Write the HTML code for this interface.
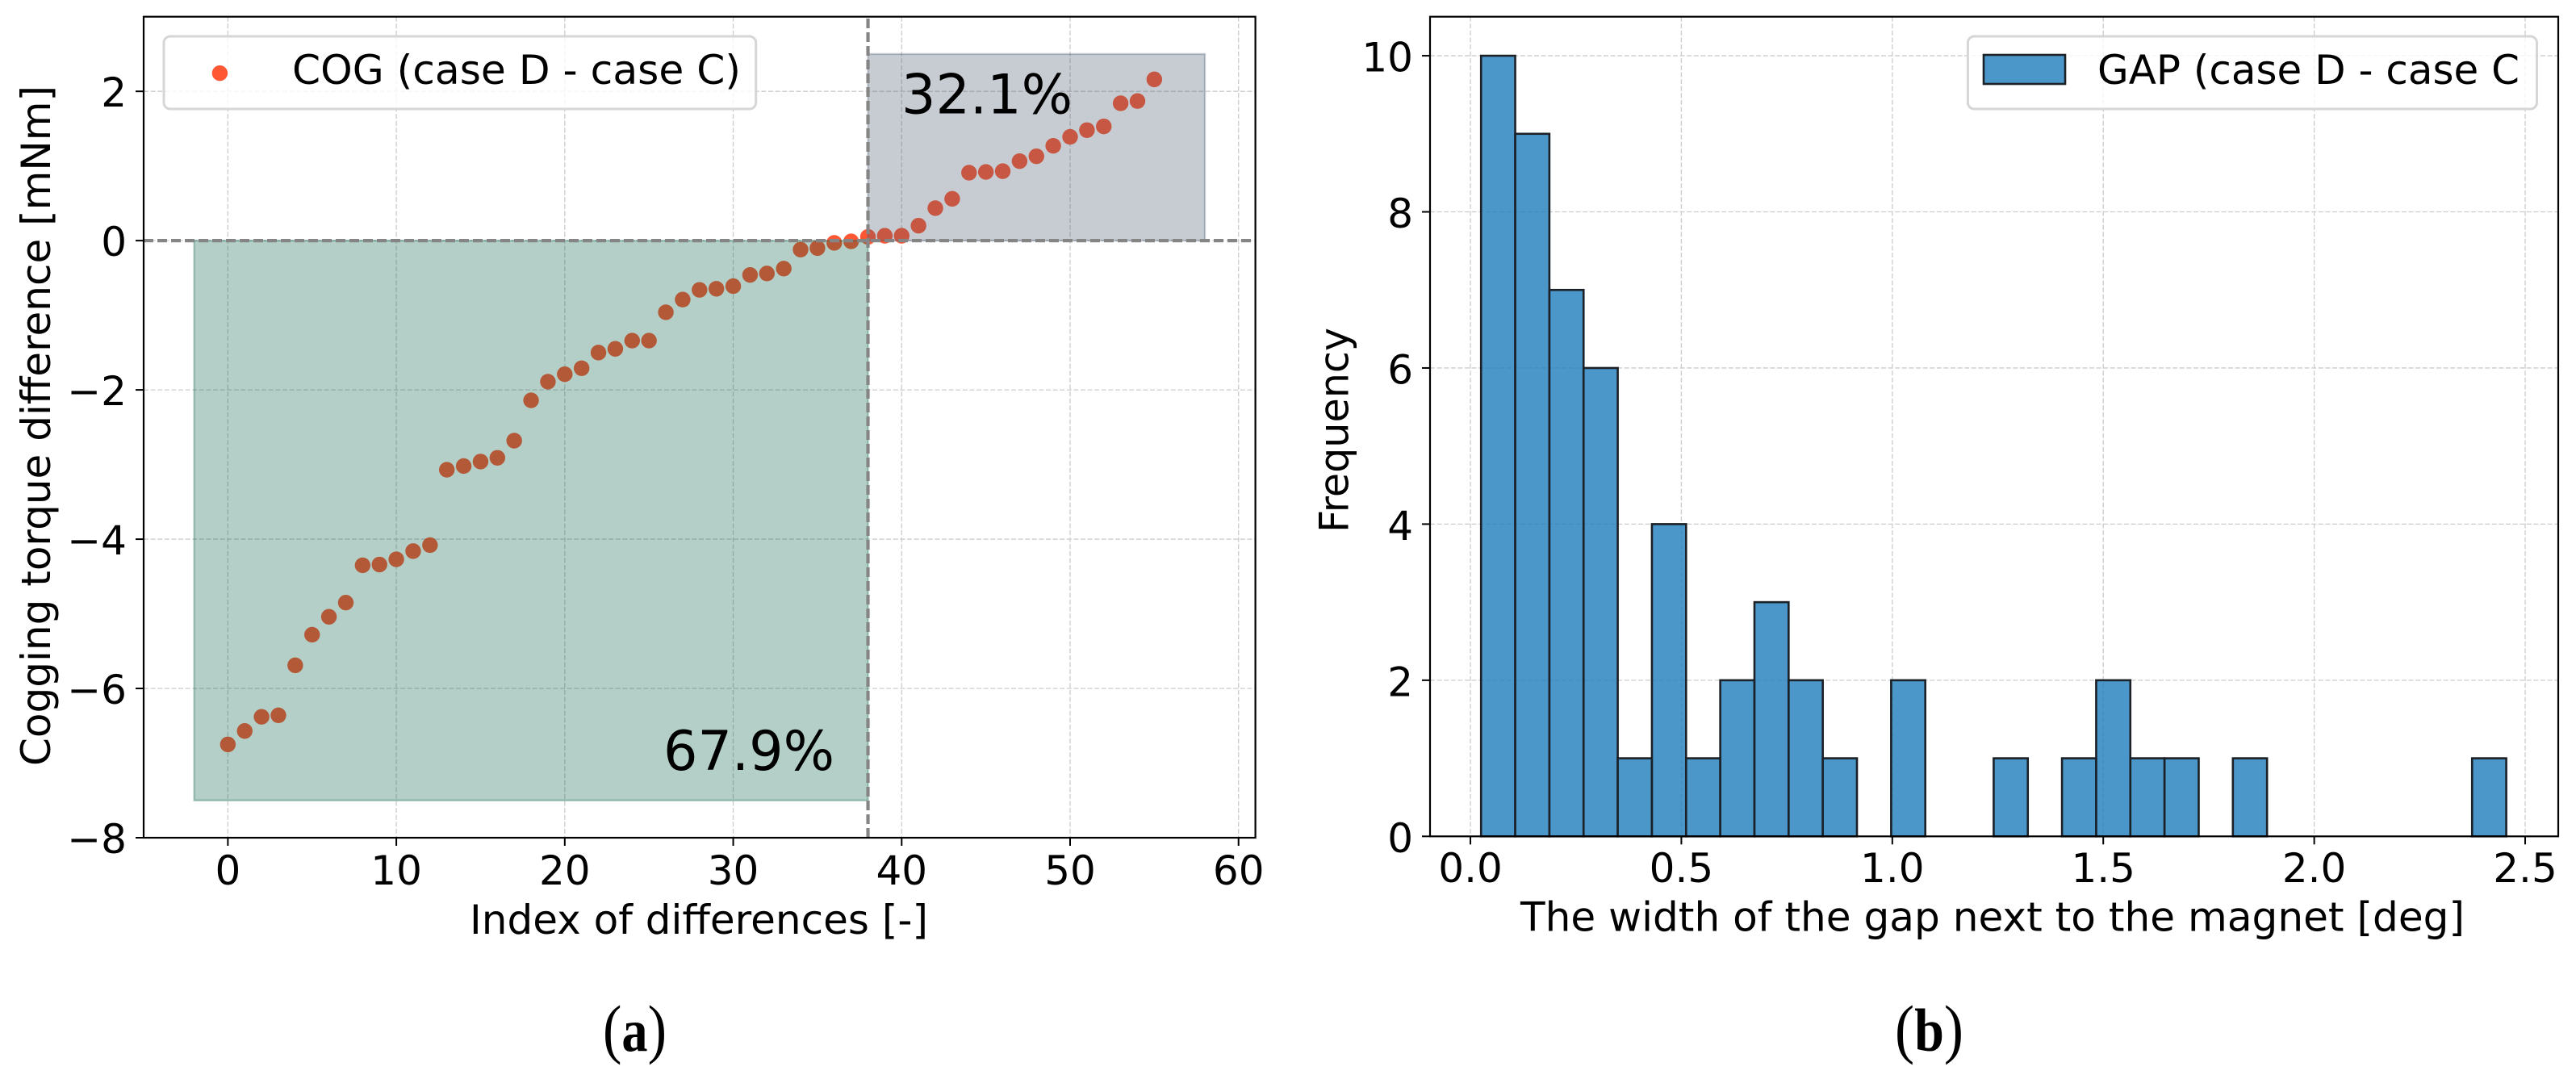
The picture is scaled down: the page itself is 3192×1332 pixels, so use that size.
<!DOCTYPE html>
<html lang="en">
<head>
<meta charset="utf-8">
<title>Cogging torque difference and gap width histogram</title>
<style>
html,body{margin:0;padding:0;background:#fff;width:3192px;height:1332px;overflow:hidden}
svg{display:block}
text{font-family:"DejaVu Sans","Liberation Sans",sans-serif;fill:#000}
.cap{font-family:"Liberation Serif","DejaVu Serif",serif}
</style>
</head>
<body>
<svg id="fig" xmlns="http://www.w3.org/2000/svg" width="3192" height="1332" viewBox="0 0 3192 1332">
  <g id="panelA"></g>
  <g id="panelB"></g>
  <text class="cap" x="747" y="1302" font-size="82" textLength="79" lengthAdjust="spacingAndGlyphs">(<tspan font-weight="bold" font-size="75">a</tspan>)</text>
  <text class="cap" x="2348" y="1302" font-size="82" textLength="85" lengthAdjust="spacingAndGlyphs">(<tspan font-weight="bold" font-size="75">b</tspan>)</text>
</svg>
<script>
// ---- Chart (a) data ----
const cogDifferences = [-6.75,-6.57,-6.38,-6.36,-5.69,-5.28,-5.04,-4.85,-4.35,-4.34,-4.27,-4.16,-4.08,-3.07,-3.02,-2.96,-2.91,-2.68,-2.14,-1.89,-1.79,-1.71,-1.50,-1.45,-1.34,-1.34,-0.96,-0.79,-0.66,-0.645,-0.61,-0.46,-0.44,-0.375,-0.12,-0.10,-0.03,-0.01,0.05,0.065,0.065,0.20,0.435,0.56,0.91,0.92,0.93,1.065,1.13,1.27,1.39,1.48,1.53,1.84,1.87,2.16];
const cogXTicks = [0,10,20,30,40,50,60];
const cogYTicks = [2,0,-2,-4,-6,-8];
const cogXLim = [-5,61];
const cogYLim = [-8,3];
const negativeRegion = [-2,38,-7.5,0];
const positiveRegion = [38,58,0,2.5];
const splitIndex = [38];
const zeroLevel = [0];
const percentLabels = ["67.9%","32.1%"];
const cogLegendLabel = ["COG (case D - case C)"];

// ---- Chart (b) data ----
const gapCounts = [10,9,7,6,1,4,1,2,3,2,1,0,2,0,0,1,0,1,2,1,1,0,1,0,0,0,0,0,0,1];
const gapBinStart = [0.0252];
const gapBinWidth = [0.0810];
const gapXTicks = [0,0.5,1,1.5,2,2.5];
const gapYTicks = [0,2,4,6,8,10];
const gapXLim = [-0.0957,2.5784];
const gapYLim = [0,10.5];
const gapLegendLabel = ["GAP (case D - case C"];

const NS = "http://www.w3.org/2000/svg";
function mk(tag, attrs, parent){
  const n = document.createElementNS(NS, tag);
  for (const k in attrs) n.setAttribute(k, attrs[k]);
  parent.appendChild(n);
  return n;
}
function linear(d0,d1,r0,r1){ return v => r0 + (v-d0)*(r1-r0)/(d1-d0); }

const boxA = {l:178, r:1555.6, t:20.7, b:1038};
const boxB = {l:1772, r:3170, t:20.7, b:1036.3};
const xA = linear(cogXLim[0],cogXLim[1],boxA.l,boxA.r);
const yA = linear(cogYLim[0],cogYLim[1],boxA.b,boxA.t);
const xB = linear(gapXLim[0],gapXLim[1],boxB.l,boxB.r);
const yB = linear(gapYLim[0],gapYLim[1],boxB.b,boxB.t);
const FS = 50;
const fmtInt = v => (v<0 ? "\u2212"+Math.abs(v) : String(v));
const GRID = {stroke:"#cccccc","stroke-width":1.3,"stroke-dasharray":"6 2.6",fill:"none"};
let el;

// ---------- PANEL A ----------
const a = document.getElementById("panelA");
cogXTicks.forEach(v => {
  el = mk("line",Object.assign({x1:xA(v),x2:xA(v),y1:boxA.t,y2:boxA.b},GRID),a);
  
  
});
cogYTicks.forEach(v => {
  el = mk("line",Object.assign({x1:boxA.l,x2:boxA.r,y1:yA(v),y2:yA(v)},GRID),a);
  
  
});
cogDifferences.forEach((v,i) => {
  el = mk("circle",{cx:xA(i),cy:yA(v),r:9.7,fill:"#ff5733"},a);
  
  
});
el = mk("rect",{x:xA(negativeRegion[0]),y:yA(negativeRegion[3]),width:xA(negativeRegion[1])-xA(negativeRegion[0]),height:yA(negativeRegion[2])-yA(negativeRegion[3]),fill:"#065f46",stroke:"#065f46","stroke-width":2.4,"fill-opacity":0.3,"stroke-opacity":0.3},a);


el = mk("rect",{x:xA(positiveRegion[0]),y:yA(positiveRegion[3]),width:xA(positiveRegion[1])-xA(positiveRegion[0]),height:yA(positiveRegion[2])-yA(positiveRegion[3]),fill:"#475569",stroke:"#475569","stroke-width":2.4,"fill-opacity":0.3,"stroke-opacity":0.3},a);


el = mk("line",{x1:boxA.l,x2:boxA.r,y1:yA(zeroLevel[0]),y2:yA(zeroLevel[0]),stroke:"#858585","stroke-width":4.2,"stroke-dasharray":"12 5"},a);


el = mk("line",{x1:xA(splitIndex[0]),x2:xA(splitIndex[0]),y1:boxA.b,y2:boxA.t,stroke:"#858585","stroke-width":4.2,"stroke-dasharray":"12 5"},a);



el = mk("rect",{x:boxA.l,y:boxA.t,width:boxA.r-boxA.l,height:boxA.b-boxA.t,fill:"none",stroke:"#000","stroke-width":2.2},a);



cogXTicks.forEach(v => {
  el = mk("line",{x1:xA(v),x2:xA(v),y1:boxA.b,y2:boxA.b+10,stroke:"#000","stroke-width":2},a);
  
  
  el = mk("text",{x:xA(v),y:1096,"font-size":FS,"text-anchor":"middle"},a);
  
  
  el.textContent = String(v);
});
cogYTicks.forEach(v => {
  el = mk("line",{x1:boxA.l-10,x2:boxA.l,y1:yA(v),y2:yA(v),stroke:"#000","stroke-width":2},a);
  
  
  el = mk("text",{x:157,y:yA(v)+19,"font-size":FS,"text-anchor":"end"},a);
  
  
  el.textContent = fmtInt(v);
});
el = mk("text",{x:582,y:1157,"font-size":FS,textLength:568,lengthAdjust:"spacingAndGlyphs"},a);


el.textContent = "Index of differences [-]";
el = mk("text",{x:62,y:949,"font-size":FS,textLength:843,lengthAdjust:"spacingAndGlyphs",transform:"rotate(-90 62 949)"},a);


el.textContent = "Cogging torque difference [mNm]";

el = mk("text",{x:822,y:954,"font-size":68,textLength:212,lengthAdjust:"spacingAndGlyphs"},a);


el.textContent = percentLabels[0];
el = mk("text",{x:1117,y:140.7,"font-size":68,textLength:212,lengthAdjust:"spacingAndGlyphs"},a);


el.textContent = percentLabels[1];

const legA = mk("g",{},a);


el = mk("rect",{x:203,y:45,width:733.7,height:90,rx:8,ry:8,fill:"#fff","fill-opacity":0.8,stroke:"#d6d6d6","stroke-width":3},legA);


el = mk("circle",{cx:272.4,cy:90.7,r:9.7,fill:"#ff5733"},legA);


el = mk("text",{x:362,y:104,"font-size":FS,textLength:556,lengthAdjust:"spacingAndGlyphs"},legA);


el.textContent = cogLegendLabel[0];

// ---------- PANEL B ----------
const b = document.getElementById("panelB");
gapXTicks.forEach(v => {
  el = mk("line",Object.assign({x1:xB(v),x2:xB(v),y1:boxB.t,y2:boxB.b},GRID),b);
  
  
});
gapYTicks.forEach(v => {
  el = mk("line",Object.assign({x1:boxB.l,x2:boxB.r,y1:yB(v),y2:yB(v)},GRID),b);
  
  
});
gapCounts.forEach((c,i) => {
  const e0 = gapBinStart[0] + i*gapBinWidth[0];
  const e1 = e0 + gapBinWidth[0];
  el = mk("rect",{x:xB(e0),y:yB(c),width:xB(e1)-xB(e0),height:yB(0)-yB(c),fill:"#1f7dbb","fill-opacity":0.8,stroke:"#1b2126","stroke-width":2.6},b);
  
  
});
el = mk("rect",{x:boxB.l,y:boxB.t,width:boxB.r-boxB.l,height:boxB.b-boxB.t,fill:"none",stroke:"#000","stroke-width":2.2},b);



gapXTicks.forEach(v => {
  el = mk("line",{x1:xB(v),x2:xB(v),y1:boxB.b,y2:boxB.b+10,stroke:"#000","stroke-width":2},b);
  
  
  el = mk("text",{x:xB(v),y:1093,"font-size":FS,"text-anchor":"middle"},b);
  
  
  el.textContent = v.toFixed(1);
});
gapYTicks.forEach(v => {
  el = mk("line",{x1:boxB.l-10,x2:boxB.l,y1:yB(v),y2:yB(v),stroke:"#000","stroke-width":2},b);
  
  
  el = mk("text",{x:1751,y:yB(v)+19.5,"font-size":FS,"text-anchor":"end"},b);
  
  
  el.textContent = String(v);
});
el = mk("text",{x:1884,y:1153.7,"font-size":FS,textLength:1170,lengthAdjust:"spacingAndGlyphs"},b);


el.textContent = "The width of the gap next to the magnet [deg]";
el = mk("text",{x:1670.4,y:660,"font-size":FS,textLength:254,lengthAdjust:"spacingAndGlyphs",transform:"rotate(-90 1670.4 660)"},b);


el.textContent = "Frequency";

const legB = mk("g",{},b);


el = mk("rect",{x:2438.4,y:45,width:705.1,height:90,rx:8,ry:8,fill:"#fff","fill-opacity":0.8,stroke:"#d6d6d6","stroke-width":3},legB);


el = mk("rect",{x:2458,y:68,width:101,height:36,fill:"#1f7dbb","fill-opacity":0.8,stroke:"#1b2126","stroke-width":2.6},legB);


el = mk("text",{x:2599,y:104,"font-size":FS,textLength:523,lengthAdjust:"spacingAndGlyphs"},legB);


el.textContent = gapLegendLabel[0];
</script>
</body>
</html>
